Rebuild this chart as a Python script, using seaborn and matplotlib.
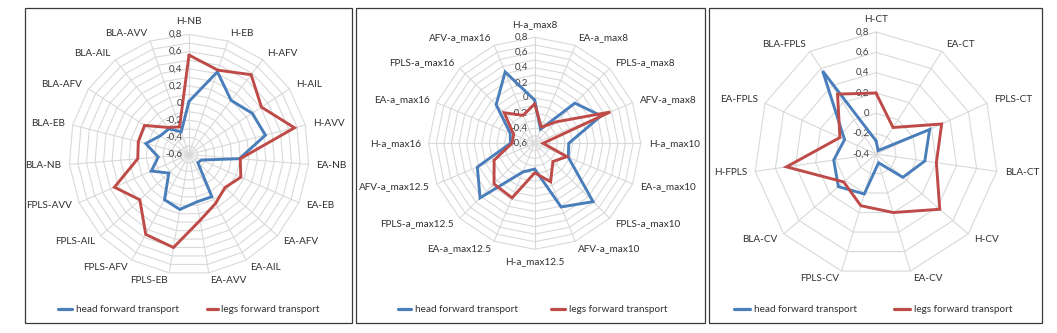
import numpy as np
import pandas as pd
import matplotlib
matplotlib.use("Agg")
import matplotlib.pyplot as plt
import seaborn as sns
from matplotlib.lines import Line2D
from matplotlib.patches import Rectangle

# ---------------- data ----------------
cats1 = ["H-NB", "H-EB", "H-AFV", "H-AIL", "H-AVV", "EA-NB", "EA-EB", "EA-AFV",
         "EA-AIL", "EA-AVV", "FPLS-EB", "FPLS-AFV", "FPLS-AIL", "FPLS-AVV",
         "BLA-NB", "BLA-EB", "BLA-AFV", "BLA-AIL", "BLA-AVV"]
head1 = [0.02, 0.42, 0.20, 0.28, 0.32, -0.01, -0.44, -0.46, -0.04, -0.04,
         0.05, 0.00, -0.28, -0.12, -0.24, -0.08, -0.20, -0.22, -0.32]
legs1 = [0.56, 0.44, 0.58, 0.41, 0.67, 0.00, 0.06, -0.03, 0.05, 0.18,
         0.50, 0.46, 0.18, 0.35, 0.00, 0.01, 0.02, -0.20, -0.26]

cats2 = ["H-a_max8", "EA-a_max8", "FPLS-a_max8", "AFV-a_max8",
         "H-a_max10", "EA-a_max10", "FPLS-a_max10", "AFV-a_max10",
         "H-a_max12.5", "EA-a_max12.5", "FPLS-a_max12.5", "AFV-a_max12.5",
         "H-a_max16", "EA-a_max16", "FPLS-a_max16", "AFV-a_max16"]
head2 = [-0.03, -0.40, 0.15, 0.35, -0.15, -0.12, 0.49, 0.31,
         -0.26, -0.19, 0.42, 0.22, -0.28, -0.25, 0.12, 0.42]
legs2 = [-0.08, -0.37, -0.20, 0.48, -0.49, -0.14, -0.26, -0.05,
         -0.21, 0.18, 0.16, -0.02, -0.30, -0.30, -0.03, -0.20]

cats3 = ["H-CT", "EA-CT", "FPLS-CT", "BLA-CT", "H-CV", "EA-CV", "FPLS-CV",
         "BLA-CV", "H-FPLS", "EA-FPLS", "BLA-FPLS"]
head3 = [-0.27, -0.36, 0.18, 0.085, -0.05, -0.31, 0.01, 0.09, 0.02, -0.06, 0.57]
legs3 = [0.20, -0.09, 0.31, 0.20, 0.43, 0.20, 0.13, 0.02, 0.49, -0.01, 0.30]

ticks1 = [-0.6, -0.4, -0.2, 0.0, 0.2, 0.4, 0.6, 0.8]
tick_labels1 = ["-0,6", "-0,4", "-0,2", "0", "0,2", "0,4", "0,6", "0,8"]
ticks3 = [-0.4, -0.2, 0.0, 0.2, 0.4, 0.6, 0.8]
tick_labels3 = ["-0,4", "-0,2", "0", "0,2", "0,4", "0,6", "0,8"]

series_names = ["head forward transport", "legs forward transport"]
colors = {"head forward transport": "#4A7EBB", "legs forward transport": "#BE4B48"}

# ---------------- layout ----------------
W, H = 1057, 333
sns.set_theme(style="white")
plt.rcParams['font.family'] = ['Lato', 'DejaVu Sans']

fig = plt.figure(figsize=(W / 100, H / 100), dpi=100)
fig.patch.set_facecolor("white")

panels = [
    dict(cats=cats1, head=head1, legs=legs1, rlim=(-0.6, 0.8), step=0.1,
         ticks=ticks1, tlabels=tick_labels1, center=(189, 154.5), R=120,
         frame=(25, 8, 352, 323), leg=(58, 72, 76, 207, 218, 221)),
    dict(cats=cats2, head=head2, legs=legs2, rlim=(-0.6, 0.8), step=0.1,
         ticks=ticks1, tlabels=tick_labels1, center=(534.7, 143.3), R=106,
         frame=(356, 8, 705, 323), leg=(398, 411, 415, 551, 565, 569)),
    dict(cats=cats3, head=head3, legs=legs3, rlim=(-0.4, 0.8), step=0.2,
         ticks=ticks3, tlabels=tick_labels3, center=(876, 154), R=122,
         frame=(709, 8, 1042, 323), leg=(734, 750, 754, 894, 910, 914)),
]

grid_color = "#d9d9d9"
text_color = "#303030"
PAD_PX = 8.0

for p in panels:
    cx, cy = p["center"]
    R = p["R"]
    ax = fig.add_axes([(cx - R) / W, (H - cy - R) / H, 2 * R / W, 2 * R / H],
                      projection="polar")
    ax.set_theta_zero_location("N")
    ax.set_theta_direction(-1)
    rmin, rmax = p["rlim"]
    ax.set_ylim(rmin, rmax)
    ax.axis("off")

    n = len(p["cats"])
    theta = np.arange(n) * 2 * np.pi / n
    theta_c = np.append(theta, 2 * np.pi)

    # polygon gridlines
    nlev = int(round((rmax - rmin) / p["step"]))
    for i in range(1, nlev + 1):
        lv = rmin + i * p["step"]
        ax.plot(theta_c, [lv] * (n + 1), color=grid_color, lw=0.8,
                clip_on=False, zorder=1)
    for t in theta:
        ax.plot([t, t], [rmin, rmax], color=grid_color, lw=0.8,
                clip_on=False, zorder=1)

    # data
    df = pd.DataFrame({
        "theta": np.concatenate([theta_c, theta_c]),
        "value": p["head"] + [p["head"][0]] + p["legs"] + [p["legs"][0]],
        "series": [series_names[0]] * (n + 1) + [series_names[1]] * (n + 1),
    })
    sns.lineplot(data=df, x="theta", y="value", hue="series", palette=colors,
                 sort=False, estimator=None, legend=False, ax=ax,
                 linewidth=2.1, zorder=3)
    for ln in ax.lines[-2:]:
        ln.set_clip_on(False)
        ln.set_solid_joinstyle("miter")

    # radial tick labels along top spoke
    for v, lab in zip(p["ticks"], p["tlabels"]):
        ax.annotate(lab, xy=(0, v), xytext=(-5, 0), textcoords="offset points",
                    ha="right", va="center", fontsize=7, color="#404040",
                    zorder=2, annotation_clip=False)

    # category labels (Excel-like placement)
    off_pt = PAD_PX * 72 / 100
    for t, c in zip(theta, p["cats"]):
        s, co = np.sin(t), np.cos(t)
        if abs(s) < 1e-6:
            ha = "center"
            va = "bottom" if co > 0 else "top"
        else:
            ha = "left" if s > 0 else "right"
            va = "center"
        ax.annotate(c, xy=(t, rmax), xytext=(off_pt * s, off_pt * co),
                    textcoords="offset points", ha=ha, va=va, fontsize=7.2,
                    color=text_color, annotation_clip=False)

    # frame
    x0, y0, x1, y1 = p["frame"]
    fig.add_artist(Rectangle((x0 / W, 1 - y1 / H), (x1 - x0) / W, (y1 - y0) / H,
                             transform=fig.transFigure, fill=False,
                             edgecolor="#3a3a3a", lw=0.9))

    # legend
    b1, b2, bt, r1, r2, rt = p["leg"]
    ly = 1 - 309 / H
    fig.add_artist(Line2D([b1 / W, b2 / W], [ly, ly], transform=fig.transFigure,
                          color=colors[series_names[0]], lw=2.3))
    fig.text(bt / W, ly, series_names[0], ha="left", va="center", fontsize=7.2,
             color=text_color)
    fig.add_artist(Line2D([r1 / W, r2 / W], [ly, ly], transform=fig.transFigure,
                          color=colors[series_names[1]], lw=2.3))
    fig.text(rt / W, ly, series_names[1], ha="left", va="center", fontsize=7.2,
             color=text_color)

fig.savefig("out.png", dpi=100, facecolor="white")
